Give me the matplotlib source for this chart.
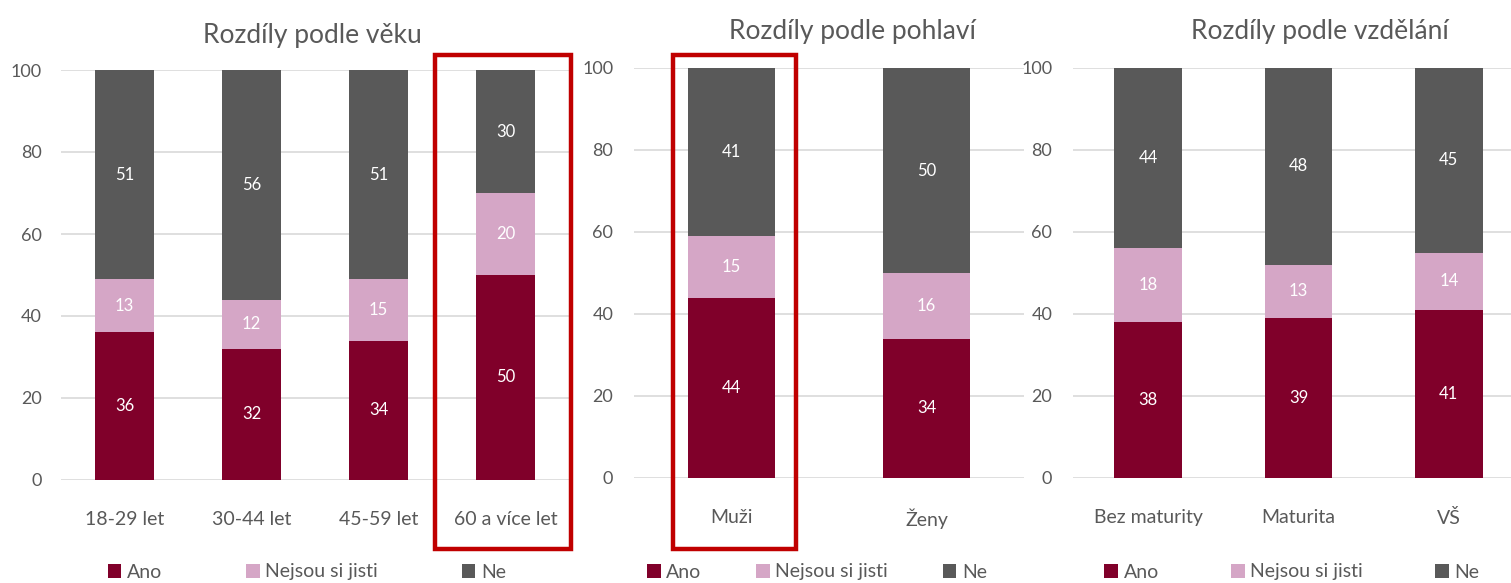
import numpy as np
import matplotlib.pyplot as plt
from matplotlib.patches import Rectangle

plt.rcParams['font.family'] = ['Lato', 'DejaVu Sans']

# data
age_cats = ['18-29 let', '30-44 let', '45-59 let', '60 a více let']
age_ano = [36, 32, 34, 50]
age_nejsou = [13, 12, 15, 20]
age_ne = [51, 56, 51, 30]

sex_cats = ['Muži', 'Ženy']
sex_ano = [44, 34]
sex_nejsou = [15, 16]
sex_ne = [41, 50]

edu_cats = ['Bez maturity', 'Maturita', 'VŠ']
edu_ano = [38, 39, 41]
edu_nejsou = [18, 13, 14]
edu_ne = [44, 48, 45]

series_names = ['Ano', 'Nejsou si jisti', 'Ne']
colors = ['#80002a', '#d5a6c6', '#595959']
grey = '#595959'

W, H = 1511, 583
fig = plt.figure(figsize=(W / 100, H / 100), dpi=100)


def px_axes(x0, x1, y_top, y_bot):
    return fig.add_axes([x0 / W, 1 - y_bot / H, (x1 - x0) / W, (y_bot - y_top) / H])


def draw_panel(ax, cats, ano, nejsou, ne, width, ypad):
    x = np.arange(len(cats))
    bottoms = np.zeros(len(cats))
    bars = []
    for vals, col in zip([ano, nejsou, ne], colors):
        b = ax.bar(x, vals, width, bottom=bottoms, color=col, zorder=3)
        for xi, bot, v in zip(x, bottoms, vals):
            ax.text(xi, bot + v / 2, str(v), ha='center', va='center',
                    color='white', fontsize=12, zorder=4)
        bottoms = bottoms + np.array(vals)
        bars.append(b)
    ax.set_xlim(-0.5, len(cats) - 0.5)
    ax.set_ylim(0, 100)
    ax.set_yticks(range(0, 101, 20))
    ax.yaxis.grid(True, color='#d9d9d9', linewidth=1.2, zorder=0)
    ax.set_axisbelow(True)
    for s in ax.spines.values():
        s.set_visible(False)
    ax.set_xticks(x)
    ax.set_xticklabels(cats)
    ax.tick_params(axis='x', length=0, pad=22, labelsize=14, labelcolor=grey)
    ax.tick_params(axis='y', length=0, pad=ypad, labelsize=13, labelcolor=grey)
    return bars


ax1 = px_axes(61, 569, 70, 480)
b1 = draw_panel(ax1, age_cats, age_ano, age_nejsou, age_ne, 0.46, 14)
ax2 = px_axes(634, 1024, 68, 478)
b2 = draw_panel(ax2, sex_cats, sex_ano, sex_nejsou, sex_ne, 0.45, 15)
ax3 = px_axes(1073, 1524, 68, 478)
b3 = draw_panel(ax3, edu_cats, edu_ano, edu_nejsou, edu_ne, 0.45, 15)

# titles
for xc, yc, t in [(312, 36, 'Rozdíly podle věku'), (852, 31, 'Rozdíly podle pohlaví'),
                  (1320, 31, 'Rozdíly podle vzdělání')]:
    fig.text(xc / W, 1 - yc / H, t, ha='center', va='center', fontsize=19, color=grey)

# legends
for xc, bars, gap in [(307, b1, 4.3), (817, b2, 2.8), (1292, b3, 3.7)]:
    fig.legend(bars, series_names, loc='center', bbox_to_anchor=(xc / W, 1 - 572 / H),
               ncol=3, frameon=False, fontsize=14, handlelength=0.7, handleheight=0.7,
               handletextpad=0.3, columnspacing=gap, labelcolor=grey)

# red highlight boxes
for x0, x1 in [(435, 571), (673, 796)]:
    fig.add_artist(Rectangle((x0 / W, 1 - 549 / H), (x1 - x0) / W, 494 / H,
                             transform=fig.transFigure, fill=False,
                             edgecolor='#c00000', linewidth=3.2, clip_on=False))

fig.savefig('out.png', dpi=100)
